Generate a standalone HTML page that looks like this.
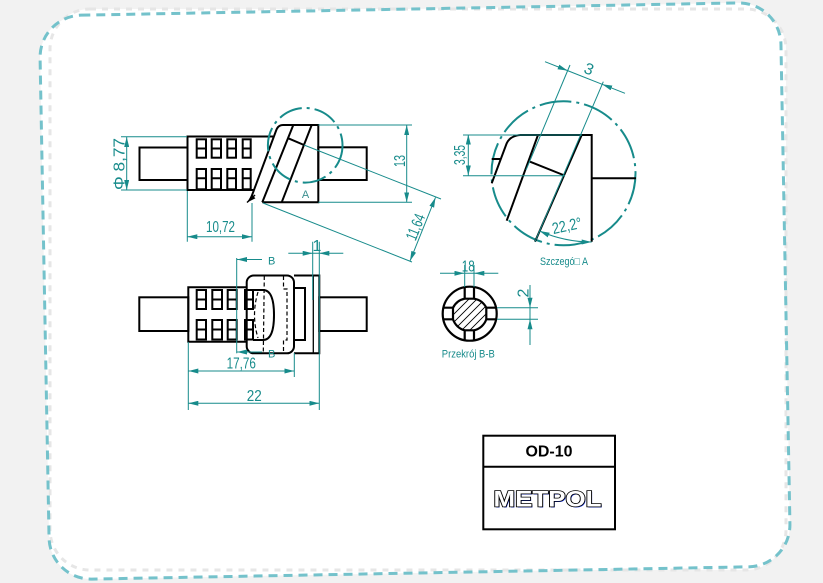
<!DOCTYPE html>
<html><head><meta charset="utf-8"><style>html,body{margin:0;padding:0;background:#f2f2f2}svg{display:block}</style></head>
<body>
<svg xmlns="http://www.w3.org/2000/svg" width="823" height="583" viewBox="0 0 823 583">
<defs>
<marker id="ar" viewBox="0 0 10 5" refX="10" refY="2.5" markerWidth="10" markerHeight="5" markerUnits="userSpaceOnUse" orient="auto-start-reverse"><path d="M0,0L10,2.5L0,5z" fill="#178b8b"/></marker>
<marker id="ak" viewBox="0 0 10 6" refX="10" refY="3" markerWidth="9" markerHeight="6" markerUnits="userSpaceOnUse" orient="auto"><path d="M0,0L10,3L0,6z" fill="#000"/></marker>
<clipPath id="cB"><path d="M464.7,298.7H474A17,17 0 0 1 486.3,307.7V319.3A17,17 0 0 1 474,330.3H464.7A17,17 0 0 1 453,319.3V307.7A17,17 0 0 1 464.7,298.7Z"/></clipPath>
</defs>
<rect width="823" height="583" fill="#f2f2f2"/>
<!-- frame -->
<g transform="rotate(-1.07 415 291)"><rect x="44.5" y="9" width="741" height="564" rx="42" fill="#fff"/></g>
<rect x="50" y="9" width="736" height="561" rx="40" fill="#fff"/>
<rect x="50" y="9" width="736" height="561" rx="40" fill="none" stroke="#e6e6e6" stroke-width="3" stroke-dasharray="6 6"/>
<g transform="rotate(-1.07 415 291)"><rect x="44.5" y="9" width="741" height="564" rx="42" fill="none" stroke="#74c2cb" stroke-width="3" stroke-dasharray="9 6"/></g>

<g style="font-family:'Liberation Sans',sans-serif">
<!-- ===== TOP VIEW ===== -->
<g fill="none" stroke="#000" stroke-width="2">
<rect x="139.5" y="147.5" width="48" height="32.5"/>
<path d="M273,136.5H187.5V190H254"/>
<rect x="196.7" y="139.3" width="9.3" height="18.4"/><rect x="211.7" y="139.3" width="9.3" height="18.4"/><rect x="227.3" y="139.3" width="8.7" height="18.4"/><rect x="242.7" y="139.3" width="8" height="18.4"/>
<path d="M196.7,148.5H206M211.7,148.5H221M227.3,148.5H236M242.7,148.5H250.7"/>
<rect x="196.7" y="169" width="9.3" height="20.3"/><rect x="211.7" y="169" width="9.3" height="20.3"/><rect x="227.3" y="169" width="8.7" height="20.3"/><rect x="242.7" y="169" width="8" height="20.3"/>
<path d="M196.7,178.3H206M211.7,178.3H221M227.3,178.3H236M242.7,178.3H250.7"/>
<path d="M251,198L276.5,129.5Q278.5,125 283,125H318.3V202.3H262.3"/>
<path d="M262.3,202.3L293.3,125M281.7,202.3L311.7,125M288.3,138.3L304,145"/>
<rect x="318.3" y="147.3" width="48.4" height="32.7"/>
</g>
<path d="M255,195L247,202.5" stroke="#000" stroke-width="1.5" marker-end="url(#ak)"/>
<circle cx="305.2" cy="145.3" r="37.3" fill="none" stroke="#178b8b" stroke-width="2" stroke-dasharray="24 5 3 5"/>
<text x="305.5" y="198" font-size="11" fill="#3a8f8f" text-anchor="middle">A</text>

<g fill="none" stroke="#178b8b" stroke-width="1">
<path d="M121,136.7H187M121,190H187"/>
<path d="M126.7,137V190" marker-start="url(#ar)" marker-end="url(#ar)"/>
<path d="M318.3,125H412M318.3,202.3H412"/>
<path d="M406.7,125V202.3" marker-start="url(#ar)" marker-end="url(#ar)"/>
<path d="M187.3,191V241.7M252,203V241.7"/>
<path d="M187.3,236.7H252" marker-start="url(#ar)" marker-end="url(#ar)"/>
<path d="M263,203L412,262M304,145L441,199"/>
<path d="M435.5,197.5L410,261" marker-start="url(#ar)" marker-end="url(#ar)"/>
</g>
<g fill="#178b8b" font-size="16">
<text transform="translate(124.5,164) rotate(-90)" text-anchor="middle" textLength="52" lengthAdjust="spacingAndGlyphs">Φ 8,77</text>
<text transform="translate(405,161) rotate(-90)" text-anchor="middle" textLength="12" lengthAdjust="spacingAndGlyphs">13</text>
<text x="220.5" y="232" text-anchor="middle" textLength="29" lengthAdjust="spacingAndGlyphs">10,72</text>
<text transform="translate(420.5,229) rotate(-68)" text-anchor="middle" textLength="27" lengthAdjust="spacingAndGlyphs">11,64</text>
</g>

<!-- ===== BOTTOM VIEW ===== -->
<g fill="none" stroke="#000" stroke-width="2">
<rect x="139.3" y="297.3" width="49" height="33.7"/>
<path d="M246.7,287.3H188.3V341.7H246.7"/>
<rect x="196.7" y="290" width="9.3" height="19"/><rect x="212.3" y="290" width="9.7" height="19"/><rect x="227.7" y="290" width="9" height="19"/><rect x="245" y="290" width="8" height="19"/>
<path d="M196.7,299.5H206M212.3,299.5H222M227.7,299.5H236.7M245,299.5H253"/>
<rect x="196.7" y="320" width="9.3" height="19.5"/><rect x="212.3" y="320" width="9.7" height="19.5"/><rect x="227.7" y="320" width="9" height="19.5"/><rect x="245" y="320" width="8" height="19.5"/>
<path d="M196.7,329.5H206M212.3,329.5H222M227.7,329.5H236.7M245,329.5H253"/>
<rect x="246.7" y="275.5" width="47.3" height="77.8" rx="7"/>
<path d="M294,275.5H319.3V353.3H294"/>
<path d="M294,288H305V340H294"/>
<rect x="319.3" y="297.3" width="47.4" height="33.7"/>
<path d="M253,290H263C272,290 274,302 274,315C274,328 272,340 263,340H253"/>
</g>
<path d="M313.3,275.5V353.3" stroke="#000" stroke-width="1.3"/>
<g fill="none" stroke="#000" stroke-width="1.2" stroke-dasharray="4 2.5">
<path d="M264.3,276L263.3,353"/>
<path d="M258,292Q251,315 258,338"/>
<path d="M283.5,276V289H287V340H283.5V353"/>
</g>
<g fill="none" stroke="#178b8b" stroke-width="1">
<path d="M236.7,258V353.3"/>
<path d="M262,259.5H237" marker-end="url(#ar)"/>
<path d="M262,352H237" marker-end="url(#ar)"/>
<path d="M288.3,253.3H312.7" marker-end="url(#ar)"/>
<path d="M343.3,253.3H319.3" marker-end="url(#ar)"/>
<path d="M312.7,253.3H319.3M312.7,241.7V300M319.3,241.7V410"/>
<path d="M294.3,353V377M188.3,342V410"/>
<path d="M188.3,371H294.3" marker-start="url(#ar)" marker-end="url(#ar)"/>
<path d="M188.3,403.3H319.3" marker-start="url(#ar)" marker-end="url(#ar)"/>
</g>
<g fill="#178b8b">
<text x="268" y="264.5" font-size="11">B</text>
<text x="268" y="357.5" font-size="11">B</text>
<text x="317" y="251" font-size="16" text-anchor="middle">1</text>
<text x="241.3" y="368.5" font-size="16" text-anchor="middle" textLength="29.3" lengthAdjust="spacingAndGlyphs">17,76</text>
<text x="254.2" y="401" font-size="16" text-anchor="middle" textLength="15" lengthAdjust="spacingAndGlyphs">22</text>
</g>

<!-- ===== SECTION B-B ===== -->
<g clip-path="url(#cB)" stroke="#000" stroke-width="0.9">
<path d="M420,340L470,290M428,340L478,290M436,340L486,290M444,340L494,290M452,340L502,290M460,340L510,290M468,340L518,290M412,340L462,290M404,340L454,290M396,340L446,290"/>
</g>
<g fill="none" stroke="#000" stroke-width="2.2">
<circle cx="469.7" cy="313.7" r="27"/>
<path d="M464.7,298.7H474A17,17 0 0 1 486.3,307.7V319.3A17,17 0 0 1 474,330.3H464.7A17,17 0 0 1 453,319.3V307.7A17,17 0 0 1 464.7,298.7Z"/>
<path d="M464.7,287V298.7M474,287V298.7M464.7,330.3V340.5M474,330.3V340.5M442.5,307.7H453M442.5,319.3H453M486.3,307.7H497M486.3,319.3H497"/>
</g>
<g fill="none" stroke="#178b8b" stroke-width="1">
<path d="M440,273.3H464.3" marker-end="url(#ar)"/>
<path d="M498.3,273.3H474.3" marker-end="url(#ar)"/>
<path d="M464.3,273.3H474.3M464.7,265V287M474,265V287"/>
<path d="M530,285V307.7" marker-end="url(#ar)"/>
<path d="M530,345V319.3" marker-end="url(#ar)"/>
<path d="M530,307.7V319.3M497,307.7H538M497,319.3H538"/>
</g>
<g fill="#178b8b">
<text x="468.3" y="271.5" font-size="16" text-anchor="middle" textLength="13" lengthAdjust="spacingAndGlyphs">18</text>
<text transform="translate(528.5,293) rotate(-90)" font-size="16" text-anchor="middle">2</text>
<text x="468.3" y="357.5" font-size="11" text-anchor="middle" textLength="53" lengthAdjust="spacingAndGlyphs">Przekrój B-B</text>
</g>

<!-- ===== DETAIL A ===== -->
<circle cx="563.5" cy="173.3" r="72" fill="none" stroke="#178b8b" stroke-width="2" stroke-dasharray="32 5 3 5"/>
<g fill="none" stroke="#000" stroke-width="2">
<path d="M520,135H591.7V241.7"/>
<path d="M520,135Q510,136 506.7,143.3L491.7,183.3"/>
<path d="M491.7,159H500"/>
<path d="M591.7,178.3H636"/>
<path d="M538,135L506.7,220.7"/>
<path d="M581.7,135L535,241.7"/>
<path d="M530,161.7L563.3,175"/>
</g>
<g fill="none" stroke="#178b8b" stroke-width="1">
<path d="M570,65L526,170"/>
<path d="M603.3,81.7L535,241.7"/>
<path d="M545,61.7L567.6,70.6" marker-end="url(#ar)"/>
<path d="M625,93.3L602.2,84.3" marker-end="url(#ar)"/>
<path d="M567.6,70.6L602.2,84.3"/>
<path d="M463,135H582M463,175.7H565"/>
<path d="M468.3,134.5V175.5" marker-start="url(#ar)" marker-end="url(#ar)"/>
<path d="M539.6,231A130,130 0 0 0 591.7,242" marker-start="url(#ar)" marker-end="url(#ar)"/>
</g>
<g fill="#178b8b">
<text transform="translate(587,74) rotate(21.5)" font-size="16" text-anchor="middle">3</text>
<text transform="translate(465,155) rotate(-90)" font-size="16" text-anchor="middle" textLength="20" lengthAdjust="spacingAndGlyphs">3,35</text>
<text transform="translate(568,231) rotate(-12)" font-size="16" text-anchor="middle" textLength="30" lengthAdjust="spacingAndGlyphs">22,2°</text>
<text x="564" y="265" font-size="11" text-anchor="middle" textLength="48" lengthAdjust="spacingAndGlyphs">Szczegó□ A</text>
</g>

<!-- ===== TITLE BLOCK ===== -->
<rect x="483.3" y="435.7" width="131.7" height="93.6" fill="#fff" stroke="#000" stroke-width="2"/>
<path d="M483.3,466.7H615" stroke="#000" stroke-width="2"/>
<text x="549" y="456.5" font-size="16" font-weight="bold" text-anchor="middle" fill="#000" textLength="47" lengthAdjust="spacingAndGlyphs">OD-10</text>
<text x="548.5" y="507.5" font-size="22" font-weight="bold" text-anchor="middle" fill="#1a3cff" textLength="108" lengthAdjust="spacingAndGlyphs">METPOL</text>
<text x="547.5" y="506.5" font-size="22" font-weight="bold" text-anchor="middle" fill="#fff" stroke="#000" stroke-width="1.6" paint-order="stroke" textLength="108" lengthAdjust="spacingAndGlyphs">METPOL</text>
</g>
</svg>
</body></html>
